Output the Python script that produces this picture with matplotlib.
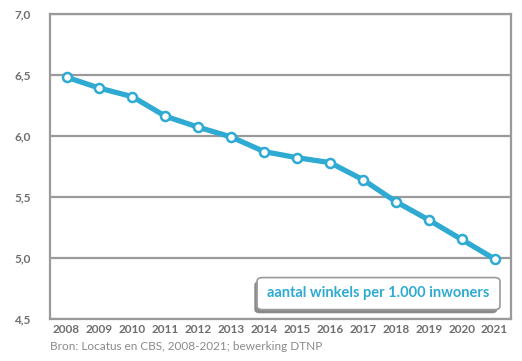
import matplotlib
matplotlib.use("Agg")
import matplotlib.pyplot as plt
from matplotlib.patches import FancyBboxPatch

years = [2008, 2009, 2010, 2011, 2012, 2013, 2014, 2015, 2016, 2017, 2018, 2019, 2020, 2021]
winkels = [6.48, 6.39, 6.32, 6.16, 6.07, 5.99, 5.87, 5.82, 5.78, 5.64, 5.46, 5.31, 5.15, 4.99]
yticks = [4.5, 5.0, 5.5, 6.0, 6.5, 7.0]
ytick_labels = ["4,5", "5,0", "5,5", "6,0", "6,5", "7,0"]

plt.rcParams["font.family"] = ["Lato", "DejaVu Sans"]
LINE = "#2eaad3"
GREY = "#6e6e6e"

fig = plt.figure(figsize=(5.22, 3.61), dpi=100)
ax = fig.add_axes([0.096, 0.117, 0.883, 0.845])

ax.plot(years, winkels, color=LINE, lw=3.8, marker="o", ms=6.5,
        mfc="white", mec=LINE, mew=1.8, zorder=3, solid_capstyle="round")

ax.set_xlim(2007.5, 2021.5)
ax.set_ylim(4.5, 7.0)
ax.set_yticks(yticks)
ax.set_yticklabels(ytick_labels)
ax.set_xticks(years)
ax.set_xticklabels([str(y) for y in years])
ax.grid(axis="y", color="#9a9a9a", lw=1.6)
ax.set_axisbelow(True)
for s in ax.spines.values():
    s.set_color("#9a9a9a")
    s.set_linewidth(1.6)
ax.tick_params(length=0, colors=GREY, labelsize=8.5)
ax.tick_params(axis="y", pad=14)
ax.tick_params(axis="x", pad=4)
for lbl in ax.get_xticklabels() + ax.get_yticklabels():
    lbl.set_fontweight("bold")

# label box with shadow
shadow = FancyBboxPatch((0.443, 0.018), 0.527, 0.105, boxstyle="round,pad=0,rounding_size=0.012",
                        transform=ax.transAxes, fc="#8a8a8a", ec="none", zorder=4)
box = FancyBboxPatch((0.449, 0.03), 0.527, 0.105, boxstyle="round,pad=0,rounding_size=0.012",
                     transform=ax.transAxes, fc="white", ec="#9a9a9a", lw=1.2, zorder=5)
ax.add_patch(shadow)
ax.add_patch(box)
ax.text(0.7125, 0.083, "aantal winkels per 1.000 inwoners", transform=ax.transAxes,
        ha="center", va="center", color=LINE, fontsize=10.5, fontweight="bold", zorder=6)

fig.text(0.096, 0.025, "Bron: Locatus en CBS, 2008-2021; bewerking DTNP",
         color="#8a8a8a", fontsize=8.5, ha="left", va="bottom")

fig.savefig("out.png", dpi=100)
